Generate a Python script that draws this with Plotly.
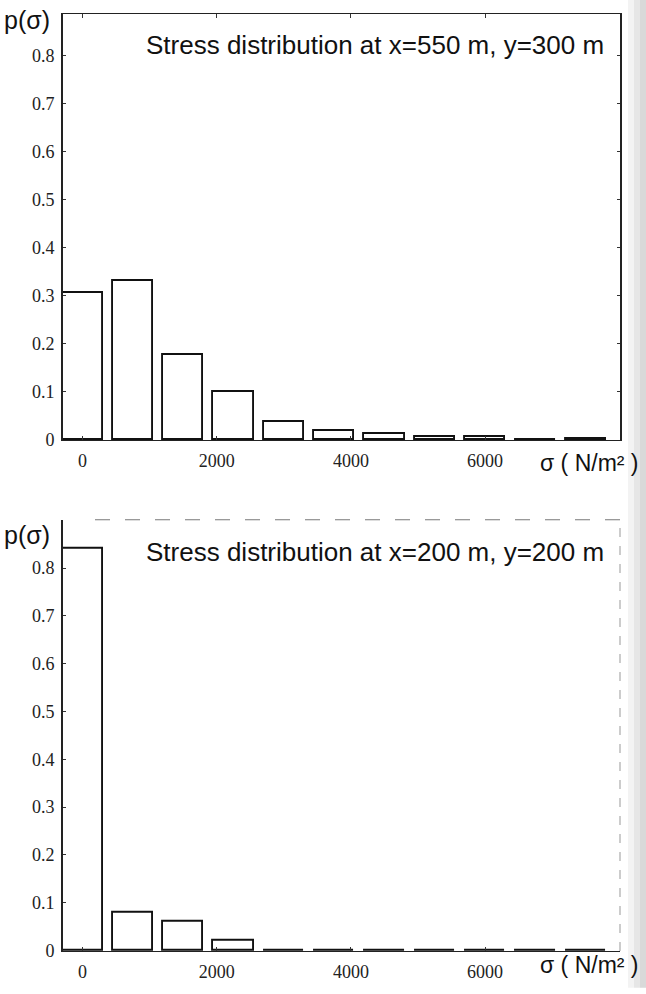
import plotly.graph_objects as go

# ---- data ----
bin_centers = [0, 750, 1500, 2250, 3000, 3750, 4500, 5250, 6000, 6750, 7500]
bin_width = 600
p_top = [0.305, 0.330, 0.177, 0.100, 0.038, 0.019, 0.012, 0.005, 0.005, 0.0, 0.002]
p_bottom = [0.840, 0.080, 0.060, 0.020, 0.0, 0.0, 0.0, 0.0, 0.0, 0.0, 0.0]
title_top = "Stress distribution at x=550 m, y=300 m"
title_bottom = "Stress distribution at x=200 m, y=200 m"
x_tickvals = [0, 2000, 4000, 6000]
x_ticktext = ["0", "2000", "4000", "6000"]
y_tickvals = [0, 0.1, 0.2, 0.3, 0.4, 0.5, 0.6, 0.7, 0.8]
y_ticktext = ["0", "0.1", "0.2", "0.3", "0.4", "0.5", "0.6", "0.7", "0.8"]

W, H = 646, 994
L, R, T, B = 63, 26, 14, 37
plot_h = H - T - B


def py2paper(py):
    return (H - B - py) / plot_h


def px2paper(px):
    return (px - L) / (W - L - R)


top_dom = [py2paper(443), 1.0]
bot_dom = [0.0, py2paper(523)]

fig = go.Figure()
bar_style = dict(color="white", line=dict(color="#111", width=1.9))
fig.add_trace(go.Bar(x=bin_centers, y=p_top, width=bin_width, marker=bar_style,
                     xaxis="x", yaxis="y", showlegend=False, cliponaxis=False))
fig.add_trace(go.Bar(x=bin_centers, y=p_bottom, width=bin_width, marker=bar_style,
                     xaxis="x2", yaxis="y2", showlegend=False, cliponaxis=False))

serif = "Liberation Serif, Times New Roman, serif"
sans = "Liberation Sans, Arial, sans-serif"

xcommon = dict(range=[-290, 8010], tickvals=x_tickvals, ticktext=x_ticktext,
               ticks="inside", ticklen=4, tickcolor="#333", showgrid=False,
               zeroline=False, showline=True, linecolor="#222", linewidth=1.4,
               tickfont=dict(family=serif, size=18, color="#222"),
               ticklabelstandoff=4)
ycommon = dict(tickvals=y_tickvals, ticktext=y_ticktext, ticks="inside", ticklen=3,
               tickcolor="#333", showgrid=False, zeroline=False, showline=True,
               linecolor="#222", linewidth=1.6,
               tickfont=dict(family=serif, size=18, color="#222"),
               ticklabelstandoff=3)

fig.update_layout(
    width=W, height=H,
    margin=dict(l=L, r=R, t=T, b=B, pad=0),
    paper_bgcolor="white", plot_bgcolor="white",
    bargap=0,
    xaxis=dict(domain=[0, 1], anchor="y", mirror="allticks", **xcommon),
    yaxis=dict(domain=top_dom, anchor="x", range=[-0.0008, 0.886], mirror="allticks", **ycommon),
    xaxis2=dict(domain=[0, 1], anchor="y2", **xcommon),
    yaxis2=dict(domain=bot_dom, anchor="x2", range=[-0.0008, 0.901], **ycommon),
)

# dashed faint borders of the lower panel (top and right)
fig.add_shape(type="line", xref="paper", yref="paper", x0=px2paper(95), x1=1.0,
              y0=bot_dom[1], y1=bot_dom[1],
              line=dict(color="#777", width=1, dash="longdash"))
fig.add_shape(type="line", xref="paper", yref="paper", x0=1.0, x1=1.0,
              y0=0, y1=bot_dom[1],
              line=dict(color="#999", width=1, dash="dash"))

# scanned-page shadow on the right edge
for x0, x1, c in [(628, 634, "#f3f3f3"), (634, 640, "#e6e6e6"), (640, 646, "#d9d9d9")]:
    fig.add_shape(type="rect", xref="paper", yref="paper",
                  x0=px2paper(x0), x1=px2paper(x1), y0=py2paper(994), y1=py2paper(0),
                  line=dict(width=0), fillcolor=c, layer="below")

ann = []
for label_y, title, title_y, sig_y in [(20, title_top, 45, 466), (538, title_bottom, 555, 971)]:
    ann.append(dict(text="p(σ)", xref="paper", yref="paper", x=px2paper(2), y=py2paper(label_y),
                    xanchor="left", yanchor="middle", showarrow=False,
                    font=dict(family=sans, size=25, color="#111")))
    ann.append(dict(text=title, xref="paper", yref="paper", x=px2paper(606), y=py2paper(title_y),
                    xanchor="right", yanchor="middle", showarrow=False,
                    font=dict(family=sans, size=26, color="#111")))
    ann.append(dict(text="σ ( N/m² )", xref="paper", yref="paper", x=px2paper(641), y=py2paper(sig_y),
                    xanchor="right", yanchor="middle", showarrow=False,
                    font=dict(family=sans, size=23, color="#111")))
fig.update_layout(annotations=ann)

fig.write_html("out.html")
